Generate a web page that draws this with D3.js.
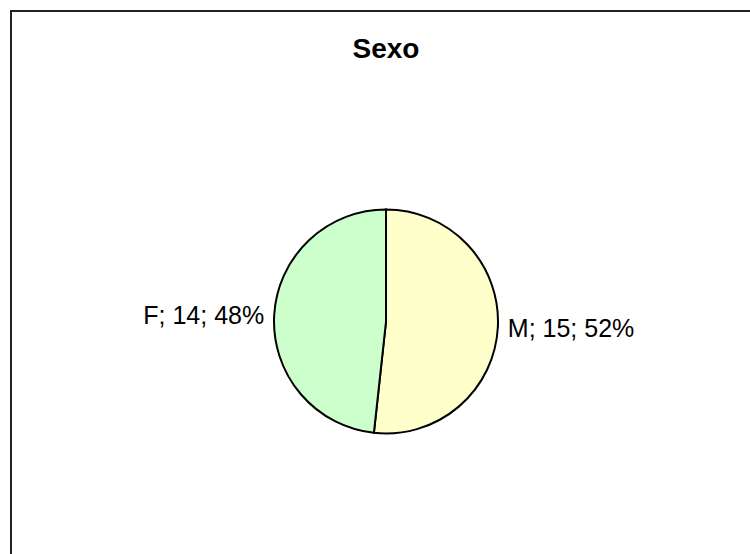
<!DOCTYPE html>
<html>
<head>
<meta charset="utf-8">
<script src="https://cdn.jsdelivr.net/npm/d3@7"></script>
<style>
  html, body { margin: 0; padding: 0; background: #fff; }
  svg { display: block; font-family: "Liberation Sans", Arial, sans-serif; }
</style>
</head>
<body>
<svg id="chart" width="750" height="554"></svg>
<script>
// Chart data
const title = "Sexo";
const categories = ["M", "F"];
const counts = [15, 14];
const colors = ["#FFFFCC", "#CCFFCC"];

const svg = d3.select("#chart");

// Chart area border (runs off the right and bottom edge)
svg.append("rect")
  .attr("x", 11).attr("y", 11)
  .attr("width", 800).attr("height", 600)
  .attr("fill", "none")
  .attr("stroke", "#222")
  .attr("stroke-width", 2);

// Title
svg.append("text")
  .attr("x", 386).attr("y", 58)
  .attr("text-anchor", "middle")
  .style("font-size", "28px")
  .style("font-weight", "bold")
  .text(title);

const cx = 386, cy = 321.5, radius = 112;
const total = d3.sum(counts);

const pie = d3.pie().sort(null).value((d) => d)(counts);
const arc = d3.arc().innerRadius(0).outerRadius(radius);

const g = svg.append("g").attr("transform", `translate(${cx},${cy})`);

g.selectAll("path")
  .data(pie)
  .join("path")
  .attr("d", arc)
  .attr("fill", (d, i) => colors[i])
  .attr("stroke", "#000")
  .attr("stroke-width", 2);

// Data labels: category; value; percent
const labelR = radius + 10;
g.selectAll("text.label")
  .data(pie)
  .join("text")
  .attr("class", "label")
  .each(function (d) {
    const a = (d.startAngle + d.endAngle) / 2;
    const x = labelR * Math.sin(a);
    const y = -labelR * Math.cos(a);
    d3.select(this)
      .attr("x", x)
      .attr("y", y)
      .attr("dy", "0.35em")
      .attr("text-anchor", x < 0 ? "end" : "start");
  })
  .style("font-size", "25px")
  .text((d, i) => `${categories[i]}; ${counts[i]}; ${Math.round((counts[i] / total) * 100)}%`);
</script>
</body>
</html>
